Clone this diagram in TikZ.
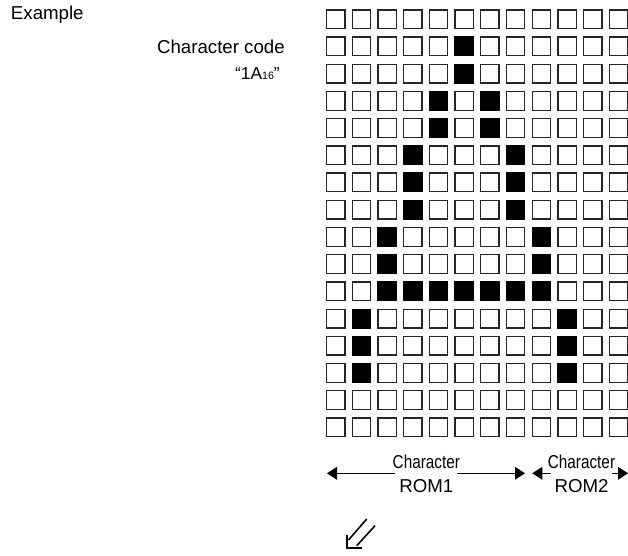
\documentclass[tikz,border=0pt]{standalone}
\usepackage{fontspec}
\setmainfont{Liberation Sans}
\usetikzlibrary{arrows.meta}

\tikzset{
  cell/.style={draw=black!85, line width=1pt, minimum width=13.7pt, minimum height=14pt, inner sep=0pt, outer sep=0pt},
  dot/.style={cell, draw=black, fill=black},
  txt/.style={inner sep=0pt},
  span/.style={line width=1pt, {Triangle[length=7.5pt,width=9.5pt]}-{Triangle[length=7.5pt,width=9.5pt]}},
  romtxt/.style={anchor=base, fill=white, inner xsep=-2.5pt, inner ysep=4.5pt, xscale=0.82}
}

\begin{document}
\begin{tikzpicture}[x=0.75pt, y=-0.75pt, font=\fontsize{14pt}{16pt}\selectfont]
  \useasboundingbox (0,0) rectangle (628,556);

  % captions
  \node[txt, anchor=base west] (example) at (10.7,20) {Example};
  \node[txt, anchor=base east] (code) at (285,53.3) {Character code};
  \node[txt, anchor=base east] (hex) at (280,80)
    {\fontsize{13pt}{15pt}\selectfont ``1A{\fontsize{8pt}{9pt}\selectfont 16}''};

  % dot matrix
  \foreach \r in {1,...,16} {
      \foreach \c in {1,...,12} {
          \node[cell] (c-\r-\c) at ({335.75+(\c-1)*25.7},{19.3+(\r-1)*27.2}) {};
        }
    }

  % pattern of the letter
  \foreach \r/\c in {2/6, 3/6, 4/5, 4/7, 5/5, 5/7, 6/4, 6/8, 7/4, 7/8, 8/4, 8/8,
      9/3, 9/9, 10/3, 10/9, 11/3, 11/4, 11/5, 11/6, 11/7, 11/8, 11/9,
      12/2, 12/10, 13/2, 13/10, 14/2, 14/10} {
      \node[dot] at (c-\r-\c) {};
    }

  % widths of the two ROMs
  \coordinate (rom1l) at (327,473.3);
  \coordinate (rom1r) at (525,473.3);
  \coordinate (rom2l) at (532.3,473.3);
  \coordinate (rom2r) at (628,473.3);
  \draw[span] (rom1l) -- (rom1r);
  \draw[span] (rom2l) -- (rom2r);
  \node[romtxt] (chr1) at (426.3,468.3) {Character};
  \node[txt, anchor=base] (rom1) at (426.3,492.7) {ROM1};
  \node[romtxt] (chr2) at (581.5,468.3) {Character};
  \node[txt, anchor=base] (rom2) at (581.5,492.7) {ROM2};

  % hollow arrow
  \draw[line width=1.2pt] (366.7,519) -- (348.5,540);
  \draw[line width=1.2pt] (375,525.7) -- (356.7,545.7);
  \draw[line width=1.2pt] (346.7,535) -- (346.7,547.7) -- (361.7,547.7);
\end{tikzpicture}
\end{document}
